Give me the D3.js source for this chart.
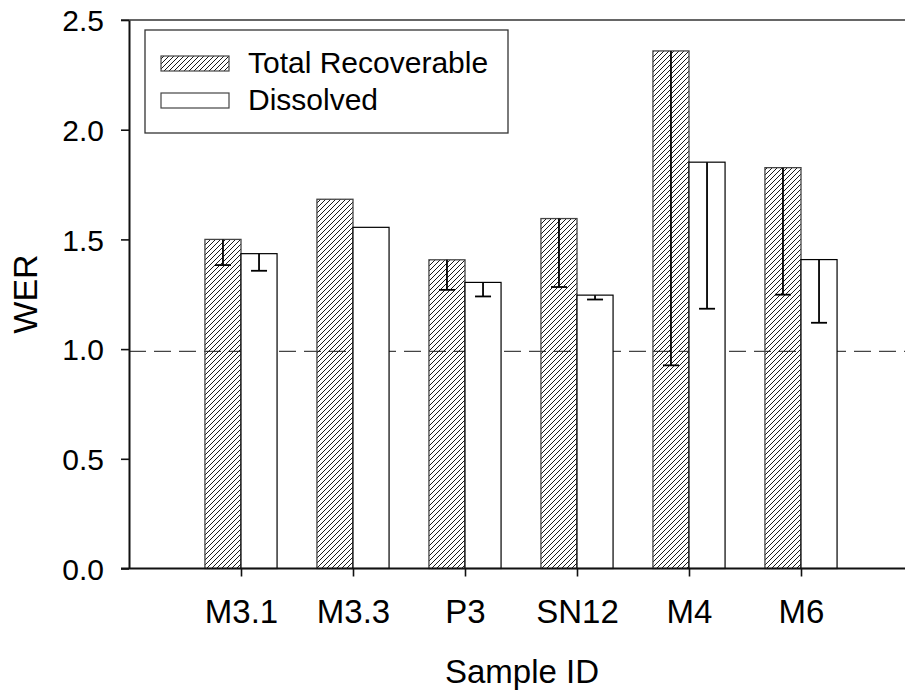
<!DOCTYPE html>
<html>
<head>
<meta charset="utf-8">
<script src="https://cdn.jsdelivr.net/npm/d3@7"></script>
<style>
body { margin: 0; background: #fff; }
text { font-family: "Liberation Sans", Arial, sans-serif; fill: #000; }
</style>
</head>
<body>
<div id="chart"></div>
<script>
// data
let samples = ["M3.1", "M3.3", "P3", "SN12", "M4", "M6"]
let totalRec = [1.500, 1.683, 1.407, 1.595, 2.359, 1.827]
let dissolved = [1.435, 1.555, 1.304, 1.246, 1.852, 1.408]
// error bars only go down
let errTotal = [0.117, 0, 0.137, 0.312, 1.433, 0.579]
let errDiss = [0.078, 0, 0.064, 0.020, 0.668, 0.288]
let yTicks = [0.0, 0.5, 1.0, 1.5, 2.0, 2.5]
let refLine = 0.99
let legendNames = ["Total Recoverable", "Dissolved"]

let W = 905, H = 691
let svg = d3.select("#chart").append("svg")
    .attr("width", W)
    .attr("height", H)

let defs = svg.append("defs")
defs.append("pattern")
    .attr("id", "hatch")
    .attr("patternUnits", "userSpaceOnUse")
    .attr("width", 5).attr("height", 5)
  .append("path")
    .attr("d", "M0,5 L5,0 M-1,1 L1,-1 M4,6 L6,4")
    .style("stroke", "#000")
    .style("stroke-width", 0.9)

let x = d3.scaleLinear().domain([0, 7]).range([129, 913])
let y = d3.scaleLinear().domain([0, 2.5]).range([568.5, 20])
let barW = x(0.322) - x(0)
let cap = 8

// top frame line
svg.append("line")
    .attr("x1", 121).attr("x2", W)
    .attr("y1", y(2.5)).attr("y2", y(2.5))
    .style("stroke", "#333").style("stroke-width", 1.6)

// reference line
svg.append("line")
    .attr("x1", x(0)).attr("x2", W)
    .attr("y1", y(refLine)).attr("y2", y(refLine))
    .style("stroke", "#444").style("stroke-width", 1.3)
    .style("stroke-dasharray", "17,8")

let g = svg.append("g")
samples.forEach((s, i) => {
    let c = x(i + 1)
    g.append("rect")
        .attr("x", c - barW).attr("y", y(totalRec[i]))
        .attr("width", barW).attr("height", y(0) - y(totalRec[i]))
        .style("fill", "url(#hatch)")
        .style("stroke", "#444").style("stroke-width", 1.3)
    g.append("rect")
        .attr("x", c).attr("y", y(dissolved[i]))
        .attr("width", barW).attr("height", y(0) - y(dissolved[i]))
        .style("fill", "#fff")
        .style("stroke", "#000").style("stroke-width", 1.2)
})

function errBar(cx, top, err){
    if(!err) return
    let low = top - err
    g.append("line")
        .attr("x1", cx).attr("x2", cx)
        .attr("y1", y(top)).attr("y2", y(low))
        .style("stroke", "#000").style("stroke-width", 1.8)
    g.append("line")
        .attr("x1", cx - cap).attr("x2", cx + cap)
        .attr("y1", y(low)).attr("y2", y(low))
        .style("stroke", "#000").style("stroke-width", 1.8)
}
samples.forEach((s, i) => {
    errBar(x(i + 1) - barW / 2, totalRec[i], errTotal[i])
    errBar(x(i + 1) + barW / 2, dissolved[i], errDiss[i])
})

// axes
let yAxis = svg.append("g")
    .attr("transform", "translate(" + x(0) + ",0)")
    .call(d3.axisLeft(y).tickValues(yTicks).tickFormat(d3.format(".1f"))
        .tickSize(8).tickSizeOuter(0).tickPadding(17))
yAxis.selectAll("text").style("font-size", "30px")
    .style("font-family", "'Liberation Sans', Arial, sans-serif").attr("dy", "0.36em")

let xAxis = svg.append("g")
    .attr("transform", "translate(0," + y(0) + ")")
    .call(d3.axisBottom(x).tickValues(d3.range(1, samples.length + 1))
        .tickFormat(d => samples[d - 1])
        .tickSize(8).tickSizeOuter(0).tickPadding(23))
xAxis.selectAll("text").style("font-size", "33px")
    .style("font-family", "'Liberation Sans', Arial, sans-serif")
// bottom line starts at the 0.0 tick
xAxis.select(".domain").attr("d", "M121,0H" + W)

svg.selectAll(".domain").style("stroke", "#111").style("stroke-width", 2)
svg.selectAll(".tick line").style("stroke", "#111").style("stroke-width", 1.6)

// axis titles
svg.append("text")
    .attr("x", 522).attr("y", 683)
    .attr("text-anchor", "middle")
    .style("font-size", "33px")
    .text("Sample ID")
svg.append("text")
    .attr("transform", "translate(37,294) rotate(-90)")
    .attr("text-anchor", "middle")
    .style("font-size", "34px")
    .text("WER")

// legend
let leg = svg.append("g")
leg.append("rect")
    .attr("x", 145).attr("y", 30).attr("width", 363).attr("height", 103)
    .style("fill", "#fff").style("stroke", "#333").style("stroke-width", 1.3)
let swFill = ["url(#hatch)", "#fff"]
let swY = [56, 93]
let txtY = [73, 110]
legendNames.forEach((n, i) => {
    leg.append("rect")
        .attr("x", 161).attr("y", swY[i]).attr("width", 68).attr("height", 15)
        .style("fill", swFill[i])
        .style("stroke", "#444").style("stroke-width", 1.2)
    leg.append("text")
        .attr("x", 248).attr("y", txtY[i])
        .style("font-size", "30px")
        .text(n)
})
</script>
</body>
</html>
